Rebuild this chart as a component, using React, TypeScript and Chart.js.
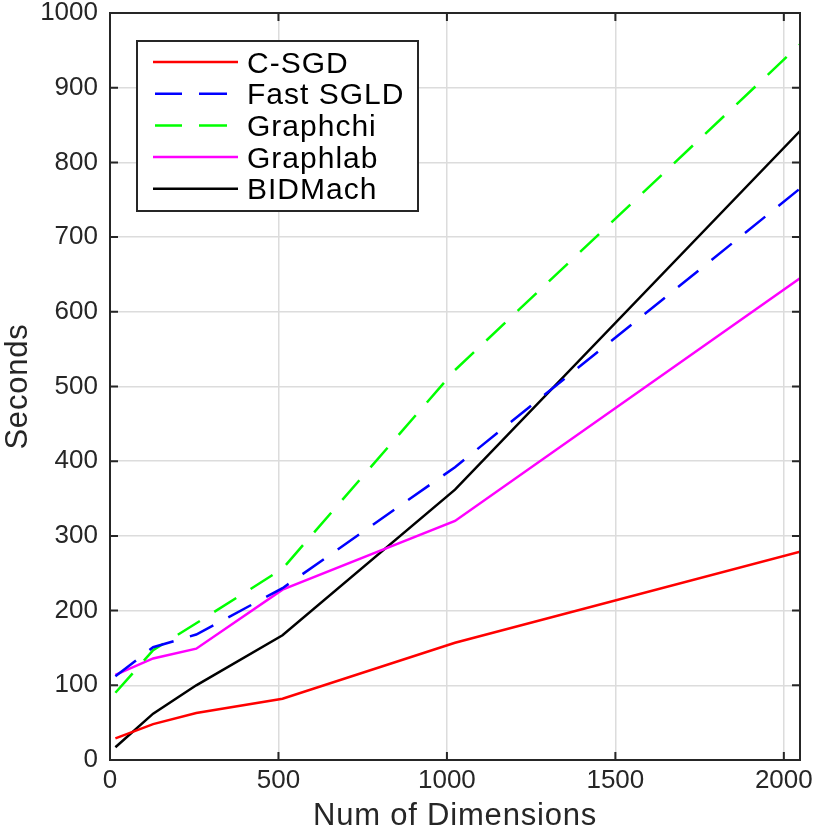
import React, { useEffect, useRef } from 'react';
import Chart from 'chart.js/auto';

const dims = [16, 128, 256, 512, 1024, 2048];
const csgd = [29, 48, 63, 82, 157, 279];
const fastSgld = [112, 151, 168, 230, 392, 765];
const graphchi = [90, 147, 183, 256, 522, 958];
const graphlab = [114, 136, 149, 228, 320, 645];
const bidmach = [17, 62, 100, 167, 362, 842];

const xTicks = [0, 500, 1000, 1500, 2000];
const yTicks = [0, 100, 200, 300, 400, 500, 600, 700, 800, 900, 1000];

const seriesNames = ['C-SGD', 'Fast SGLD', 'Graphchi', 'Graphlab', 'BIDMach'];
const seriesColors = ['#ff0000', '#0000ff', '#00ff00', '#ff00ff', '#000000'];
const seriesDashed = [false, true, true, false, false];

const xTitle = 'Num of Dimensions';
const yTitle = 'Seconds';

const FONT = '"Liberation Sans", Arial, Helvetica, sans-serif';
const AXIS = '#262626';
const DASH = [26, 17];

const toPoints = (ys: number[]) => ys.map((y, i) => ({ x: dims[i], y }));

// frame with inward tick marks and the axis titles, matlab style
const framePlugin = {
  id: 'frame',
  afterDraw(chart: any) {
    const { ctx, chartArea: a, scales } = chart;
    ctx.save();
    ctx.strokeStyle = AXIS;
    ctx.lineWidth = 2;
    ctx.strokeRect(a.left, a.top, a.right - a.left, a.bottom - a.top);
    const len = 8;
    ctx.beginPath();
    scales.x.ticks.forEach((t: any) => {
      const px = scales.x.getPixelForValue(t.value);
      ctx.moveTo(px, a.bottom);
      ctx.lineTo(px, a.bottom - len);
      ctx.moveTo(px, a.top);
      ctx.lineTo(px, a.top + len);
    });
    scales.y.ticks.forEach((t: any) => {
      const py = scales.y.getPixelForValue(t.value);
      ctx.moveTo(a.left, py);
      ctx.lineTo(a.left + len, py);
      ctx.moveTo(a.right, py);
      ctx.lineTo(a.right - len, py);
    });
    ctx.stroke();

    ctx.fillStyle = AXIS;
    ctx.font = `31px ${FONT}`;
    ctx.textAlign = 'center';
    ctx.textBaseline = 'alphabetic';
    (ctx as any).letterSpacing = '0.8px';
    ctx.fillText(xTitle, (a.left + a.right) / 2, 825);
    ctx.translate(27, (a.top + a.bottom) / 2);
    ctx.rotate(-Math.PI / 2);
    ctx.fillText(yTitle, 0, 0);
    ctx.restore();
  },
};

// boxed legend in the top-left corner
const legendPlugin = {
  id: 'boxLegend',
  afterDraw(chart: any) {
    const { ctx } = chart;
    const left = 137, top = 41, right = 418, bottom = 211;
    ctx.save();
    ctx.fillStyle = '#ffffff';
    ctx.fillRect(left, top, right - left, bottom - top);
    ctx.strokeStyle = AXIS;
    ctx.lineWidth = 2;
    ctx.strokeRect(left, top, right - left, bottom - top);
    ctx.font = `30px ${FONT}`;
    (ctx as any).letterSpacing = '1px';
    ctx.textBaseline = 'alphabetic';
    seriesNames.forEach((name, i) => {
      const y = 62 + i * 31.7;
      ctx.beginPath();
      ctx.strokeStyle = seriesColors[i];
      ctx.lineWidth = 2.5;
      if (seriesDashed[i]) {
        ctx.moveTo(155, y);
        ctx.lineTo(182, y);
        ctx.moveTo(199, y);
        ctx.lineTo(227, y);
      } else {
        ctx.moveTo(153, y);
        ctx.lineTo(238, y);
      }
      ctx.stroke();
      ctx.fillStyle = '#000000';
      ctx.fillText(name, 247, y + 10.5);
    });
    ctx.restore();
  },
};

const App: React.FC = () => {
  const canvasRef = useRef<HTMLCanvasElement>(null);

  useEffect(() => {
    if (!canvasRef.current) return;
    const all = [csgd, fastSgld, graphchi, graphlab, bidmach];
    const chart = new Chart(canvasRef.current, {
      type: 'line',
      data: {
        datasets: all.map((ys, i) => ({
          label: seriesNames[i],
          data: toPoints(ys),
          borderColor: seriesColors[i],
          backgroundColor: seriesColors[i],
          borderWidth: 2.5,
          borderDash: seriesDashed[i] ? DASH : [],
          pointRadius: 0,
          tension: 0,
          fill: false,
        })),
      },
      options: {
        animation: false,
        responsive: false,
        devicePixelRatio: 1,
        layout: { padding: { top: 13, right: 30, left: 0, bottom: 0 } },
        plugins: {
          legend: { display: false },
          tooltip: { enabled: false },
        },
        scales: {
          x: {
            type: 'linear',
            min: 0,
            max: 2048,
            afterFit: (s: any) => {
              s.height = 70;
              s.paddingLeft = 0;
              s.paddingRight = 0;
            },
            afterBuildTicks: (s: any) => { s.ticks = xTicks.map((v) => ({ value: v })); },
            ticks: {
              callback: (v: any) => String(v),
              color: AXIS,
              font: { family: FONT, size: 26 },
              padding: 5,
              maxRotation: 0,
              autoSkip: false,
            },
            grid: { color: '#dcdcdc', lineWidth: 1.5, drawTicks: false },
            border: { display: false },
          },
          y: {
            min: 0,
            max: 1000,
            afterFit: (s: any) => {
              s.width = 110;
              s.paddingTop = 0;
              s.paddingBottom = 0;
            },
            afterBuildTicks: (s: any) => { s.ticks = yTicks.map((v) => ({ value: v })); },
            ticks: {
              callback: (v: any) => String(v),
              color: AXIS,
              font: { family: FONT, size: 26 },
              padding: 12,
              autoSkip: false,
            },
            grid: { color: '#dcdcdc', lineWidth: 1.5, drawTicks: false },
            border: { display: false },
          },
        },
      },
      plugins: [framePlugin, legendPlugin],
    });
    return () => {
      chart.destroy();
    };
  }, []);

  return (
    <div style={{ position: 'absolute', left: 0, top: 0, width: 830, height: 830, background: '#fff' }}>
      <canvas ref={canvasRef} width={830} height={830} />
    </div>
  );
};

export default App;
